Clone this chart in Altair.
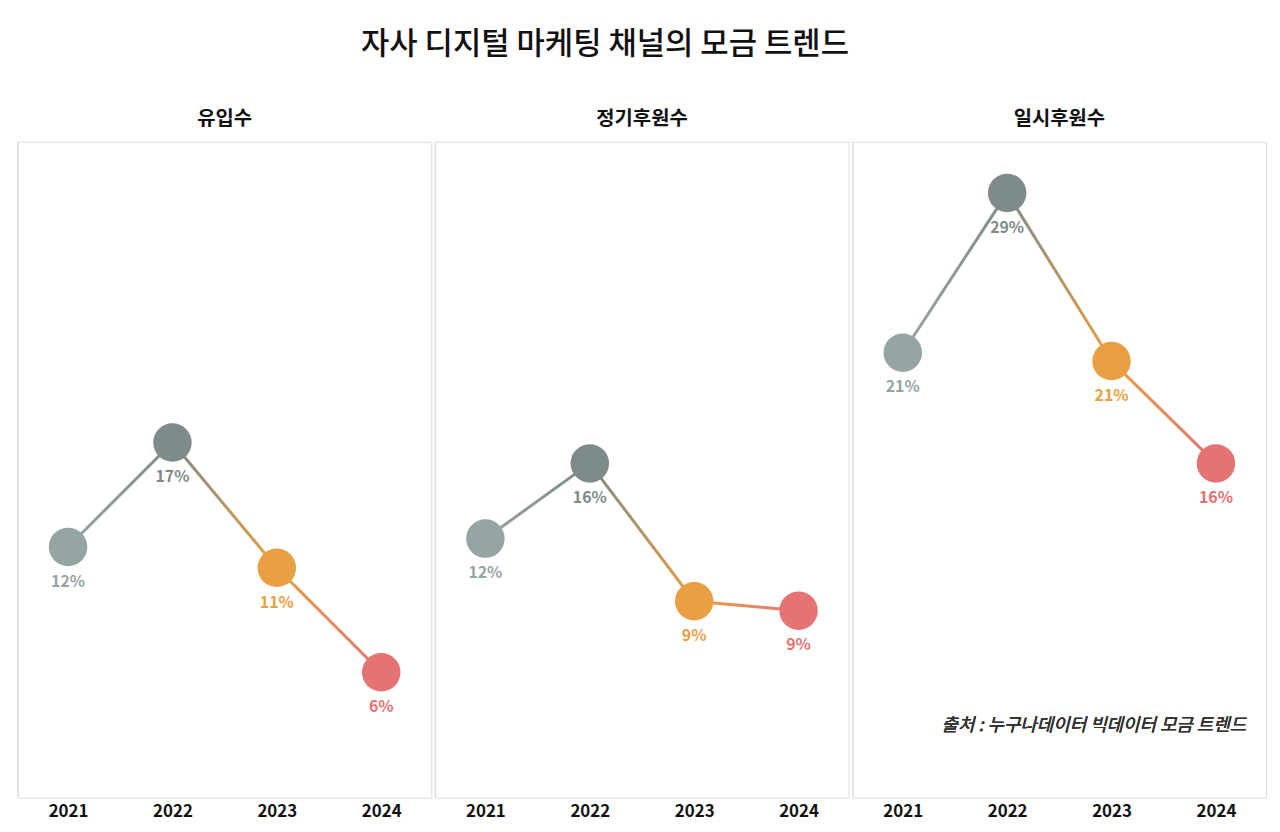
import pandas as pd
import altair as alt

FONT = "Noto Sans CJK KR"
years = ["2021", "2022", "2023", "2024"]
panels = ["유입수", "정기후원수", "일시후원수"]
values = {
    "유입수": [12.0, 17.0, 11.0, 6.0],
    "정기후원수": [12.4, 16.0, 9.4, 8.95],
    "일시후원수": [21.3, 28.95, 20.9, 16.0],
}
labels = {
    "유입수": ["12%", "17%", "11%", "6%"],
    "정기후원수": ["12%", "16%", "9%", "9%"],
    "일시후원수": ["21%", "29%", "21%", "16%"],
}
colors = ["#95a5a3", "#7f8b8a", "#e9a043", "#e57373"]

W, H = 416, 660
xs = alt.X("year:O", scale=alt.Scale(type="point", domain=years, padding=0.48),
           axis=alt.Axis(title=None, labelAngle=0, labelFont=FONT, labelFontSize=17,
                         labelFontWeight="bold", labelColor="#111", domain=False,
                         ticks=False, labelPadding=6))
ys = alt.Y("value:Q", scale=alt.Scale(domain=[0, 31.4]), axis=None)


def panel(name, show_source=False):
    df = pd.DataFrame({"year": years, "value": values[name], "label": labels[name],
                       "c": colors})
    layers = [
        alt.Chart(df).mark_rule(color="#e3e3e3", strokeWidth=1).encode(
            x=alt.value(0), y=alt.value(0), y2=alt.value(H))
    ]
    for k in range(3):
        seg = df.iloc[k:k + 2]
        layers.append(alt.Chart(seg).mark_line(
            strokeWidth=3,
            stroke=alt.Gradient(gradient="linear", x1=0, y1=0, x2=1, y2=0,
                                stops=[alt.GradientStop(color=colors[k], offset=0),
                                       alt.GradientStop(color=colors[k + 1], offset=1)])
        ).encode(x=xs, y=ys))
    layers.append(alt.Chart(df).mark_circle(size=1500, opacity=1).encode(
        x=xs, y=ys, color=alt.Color("c:N", scale=None)))
    layers.append(alt.Chart(df).mark_text(dy=35, font=FONT, fontSize=16,
                                          fontWeight="bold").encode(
        x=xs, y=ys, text="label:N", color=alt.Color("c:N", scale=None)))
    if show_source:
        layers.append(alt.Chart(df).mark_text(
            text="출처 : 누구나데이터 빅데이터 모금 트렌드", font=FONT, fontSize=18,
            fontStyle="italic", fontWeight=400, color="#333", align="right").encode(
            x=alt.value(W - 20), y=alt.value(588)))
    return alt.layer(*layers).properties(
        width=W, height=H,
        title=alt.TitleParams(name, font=FONT, fontSize=20, fontWeight="bold",
                              color="#111", offset=12))


chart = alt.hconcat(panel(panels[0]), panel(panels[1]), panel(panels[2], True),
                    spacing=2).properties(
    title=alt.TitleParams("자사 디지털 마케팅 채널의 모금 트렌드", font=FONT, fontSize=31,
                          fontWeight=500, color="#111", anchor="middle", dx=-37,
                          offset=48),
    padding={"left": 9, "top": 19, "right": 5, "bottom": 5},
).configure_view(strokeWidth=0, stroke="transparent").configure(background="white")

chart.save("out.html", embed_options={"renderer": "svg", "actions": False})
